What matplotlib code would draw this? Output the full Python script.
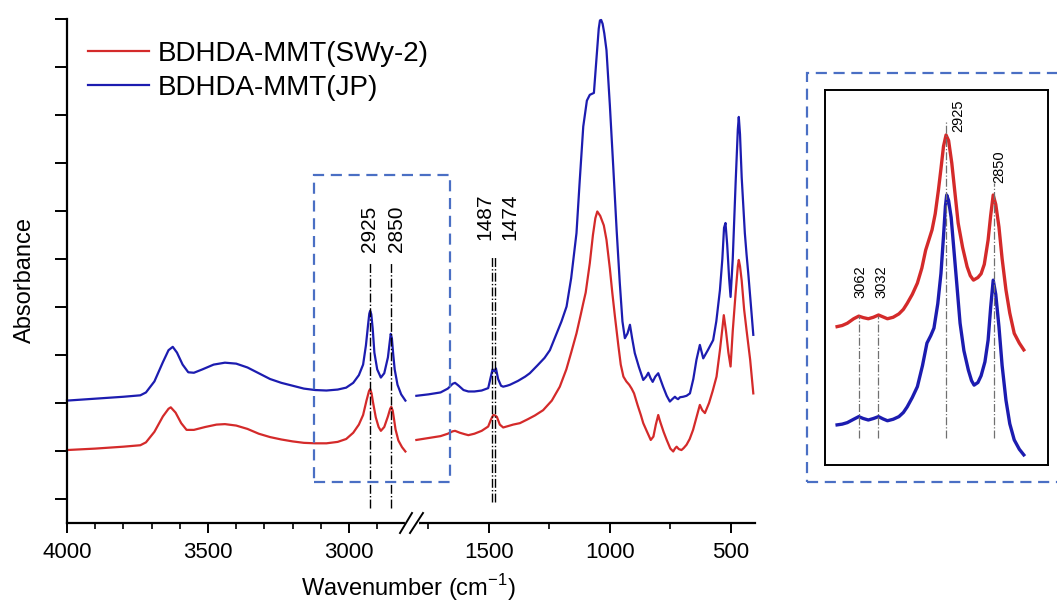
import matplotlib
matplotlib.use('Agg')
import matplotlib.pyplot as plt
from matplotlib.patches import Rectangle
from matplotlib.lines import Line2D

plt.rcParams['font.family'] = ['Liberation Sans', 'DejaVu Sans']

# --- data (wavenumber, absorbance in arbitrary units) ---
wn_left_jp = [4000, 3900, 3800, 3740, 3720, 3690, 3660, 3640, 3625, 3610, 3590, 3570, 3550, 3520,
              3480, 3440, 3400, 3360, 3320, 3280, 3240, 3200, 3160, 3120, 3080, 3040, 3010, 2985,
              2965, 2950, 2940, 2932, 2928, 2925, 2921, 2916, 2910, 2900, 2887, 2875, 2862, 2855,
              2852, 2848, 2843, 2838, 2828, 2815, 2800]
abs_left_jp = [2.05, 2.09, 2.13, 2.16, 2.22, 2.45, 2.85, 3.10, 3.17, 3.05, 2.80, 2.64, 2.63, 2.70,
               2.80, 2.84, 2.82, 2.74, 2.62, 2.50, 2.42, 2.36, 2.30, 2.27, 2.26, 2.28, 2.32, 2.42,
               2.58, 2.80, 3.20, 3.65, 3.86, 3.92, 3.85, 3.55, 3.05, 2.70, 2.53, 2.62, 2.95, 3.30,
               3.44, 3.35, 3.00, 2.70, 2.38, 2.18, 2.05]

wn_left_swy = [4000, 3900, 3800, 3740, 3720, 3690, 3660, 3640, 3632, 3615, 3595, 3576, 3550, 3510,
               3470, 3440, 3400, 3360, 3320, 3280, 3240, 3200, 3160, 3120, 3080, 3040, 3010, 2985,
               2965, 2950, 2938, 2929, 2925, 2920, 2915, 2905, 2895, 2887, 2875, 2862, 2854, 2850,
               2845, 2840, 2835, 2825, 2812, 2800]
abs_left_swy = [1.02, 1.05, 1.09, 1.12, 1.18, 1.40, 1.72, 1.88, 1.91, 1.80, 1.58, 1.44, 1.44, 1.50,
                1.55, 1.56, 1.53, 1.46, 1.36, 1.29, 1.24, 1.20, 1.17, 1.16, 1.16, 1.19, 1.25, 1.38,
                1.55, 1.75, 2.05, 2.25, 2.29, 2.20, 2.02, 1.70, 1.50, 1.42, 1.50, 1.72, 1.88, 1.92,
                1.84, 1.65, 1.45, 1.22, 1.08, 0.99]

wn_right_jp = [1800, 1750, 1700, 1670, 1650, 1640, 1625, 1605, 1585, 1560, 1530, 1503, 1492, 1485,
               1478, 1471, 1462, 1450, 1441, 1425, 1413, 1380, 1350, 1331, 1300, 1270, 1248, 1220,
               1200, 1179, 1160, 1138, 1125, 1110, 1095, 1083, 1066, 1055, 1046, 1041, 1036, 1030,
               1023, 1014, 1000, 986, 972, 959, 948, 938, 927, 917, 908, 897, 880, 862, 850, 841,
               832, 823, 812, 800, 790, 780, 765, 752, 742, 731, 725, 718, 710, 697, 683, 669, 655,
               642, 628, 614, 595, 573, 560, 545, 535, 528, 522, 515, 507, 501, 492, 480, 471, 467,
               462, 455, 442, 435, 428, 418, 407]
abs_right_jp = [2.15, 2.18, 2.22, 2.30, 2.40, 2.42, 2.36, 2.27, 2.24, 2.24, 2.26, 2.31, 2.55, 2.70,
                2.66, 2.72, 2.50, 2.36, 2.34, 2.36, 2.38, 2.46, 2.55, 2.62, 2.78, 2.94, 3.10, 3.45,
                3.70, 4.01, 4.60, 5.54, 6.60, 7.76, 8.30, 8.42, 8.46, 9.20, 9.80, 9.97, 9.98, 9.90,
                9.70, 9.35, 8.20, 6.92, 5.60, 4.50, 3.70, 3.35, 3.45, 3.63, 3.35, 3.04, 2.75, 2.48,
                2.55, 2.63, 2.52, 2.44, 2.55, 2.62, 2.48, 2.34, 2.15, 2.03, 2.08, 2.13, 2.10, 2.08,
                2.12, 2.13, 2.15, 2.20, 2.50, 2.90, 3.21, 2.93, 3.10, 3.31, 3.70, 4.35, 5.00, 5.65,
                5.75, 5.30, 4.60, 4.21, 5.00, 6.60, 7.70, 7.96, 7.60, 6.70, 5.54, 5.10, 4.71, 4.10,
                3.42]

wn_right_swy = [1800, 1750, 1700, 1670, 1650, 1640, 1620, 1600, 1585, 1560, 1530, 1503, 1492, 1482,
                1474, 1467, 1455, 1441, 1420, 1400, 1372, 1340, 1310, 1276, 1240, 1207, 1180, 1160,
                1138, 1120, 1110, 1100, 1083, 1070, 1060, 1052, 1040, 1025, 1014, 1000, 990, 979,
                965, 955, 944, 932, 920, 910, 900, 885, 872, 862, 848, 831, 820, 810, 800, 795, 790,
                778, 765, 750, 738, 731, 724, 715, 704, 695, 683, 670, 656, 642, 628, 618, 607, 590,
                575, 559, 545, 535, 529, 520, 510, 501, 492, 480, 471, 467, 462, 455, 445, 435, 420,
                407]
abs_right_swy = [1.23, 1.27, 1.31, 1.36, 1.41, 1.42, 1.38, 1.35, 1.33, 1.36, 1.42, 1.51, 1.65, 1.75,
                 1.74, 1.71, 1.55, 1.49, 1.52, 1.55, 1.58, 1.66, 1.74, 1.85, 2.05, 2.34, 2.70, 3.05,
                 3.45, 3.85, 4.08, 4.30, 4.91, 5.50, 5.85, 5.99, 5.90, 5.70, 5.40, 4.80, 4.30, 3.80,
                 3.20, 2.80, 2.55, 2.45, 2.38, 2.30, 2.20, 1.95, 1.75, 1.58, 1.42, 1.23, 1.30, 1.55,
                 1.75, 1.66, 1.58, 1.40, 1.23, 1.05, 0.99, 1.05, 1.09, 1.04, 1.02, 1.06, 1.13, 1.25,
                 1.44, 1.70, 1.96, 1.85, 1.79, 2.00, 2.25, 2.55, 3.10, 3.55, 3.83, 3.50, 3.05, 2.76,
                 3.50, 4.30, 4.85, 4.98, 4.85, 4.55, 3.95, 3.52, 2.90, 2.20]

# inset (C-H stretching region)
wn_inset_swy = [3096, 3088, 3080, 3070, 3062, 3055, 3047, 3039, 3031, 3024, 3017, 3008, 2999, 2992,
                2986, 2978, 2970, 2963, 2957, 2952, 2947, 2942, 2937, 2933, 2929, 2925, 2921, 2916,
                2911, 2906, 2899, 2892, 2887, 2882, 2875, 2870, 2865, 2859, 2855, 2851, 2847, 2842,
                2837, 2831, 2825, 2818, 2810, 2803]
abs_inset_swy = [3.69, 3.72, 3.78, 3.90, 3.97, 3.93, 3.90, 3.94, 4.00, 3.95, 3.90, 3.94, 4.03, 4.15,
                 4.31, 4.55, 4.85, 5.25, 5.73, 6.00, 6.27, 6.70, 7.33, 7.90, 8.50, 8.80, 8.65, 8.05,
                 7.25, 6.45, 5.80, 5.29, 5.05, 4.93, 5.00, 5.10, 5.35, 6.00, 6.65, 7.20, 6.95, 6.35,
                 5.50, 4.67, 4.05, 3.51, 3.25, 3.07]
wn_inset_jp = [3096, 3088, 3080, 3070, 3062, 3055, 3047, 3039, 3031, 3024, 3017, 3008, 2999, 2992,
               2986, 2978, 2970, 2962, 2955, 2949, 2944, 2938, 2933, 2929, 2926, 2924, 2921, 2917,
               2914, 2908, 2903, 2897, 2890, 2885, 2881, 2875, 2870, 2864, 2859, 2855, 2851, 2847,
               2842, 2837, 2831, 2825, 2818, 2810, 2803]
abs_inset_jp = [1.07, 1.09, 1.13, 1.22, 1.29, 1.24, 1.20, 1.24, 1.29, 1.23, 1.18, 1.22, 1.29, 1.40,
                1.55, 1.80, 2.09, 2.65, 3.25, 3.45, 3.65, 4.30, 5.11, 6.10, 6.90, 7.20, 7.05, 6.60,
                6.00, 4.80, 3.78, 3.05, 2.53, 2.25, 2.13, 2.20, 2.38, 2.75, 3.33, 4.20, 4.93, 4.55,
                3.69, 2.65, 1.73, 1.10, 0.67, 0.42, 0.27]

main_marks = [2925, 2850]
main_marks2 = [1487, 1474]
inset_marks = [3062, 3032, 2925, 2850]

RED = '#d42a2a'
BLUE = '#1c1cb0'
BOX = '#4a6fc4'

W, H = 1057, 604


def fx(px):
    return px / W


def fy(py):
    return 1 - py / H


fig = plt.figure(figsize=(W / 100, H / 100), dpi=100)

bot = fy(523)
hgt = fy(19) - bot
ax_l = fig.add_axes([fx(67), bot, fx(419.5) - fx(67), hgt])
ax_r = fig.add_axes([fx(419.5), bot, fx(755) - fx(419.5), hgt])

ax_l.plot(wn_left_swy, abs_left_swy, color=RED, lw=1.6, label='BDHDA-MMT(SWy-2)', clip_on=False)
ax_l.plot(wn_left_jp, abs_left_jp, color=BLUE, lw=1.6, label='BDHDA-MMT(JP)', clip_on=False)
ax_r.plot(wn_right_swy, abs_right_swy, color=RED, lw=1.6, clip_on=False)
ax_r.plot(wn_right_jp, abs_right_jp, color=BLUE, lw=1.6, clip_on=False)

ax_l.set_xlim(4000, 2750)
ax_r.set_xlim(1787, 400)
for ax in (ax_l, ax_r):
    ax.set_ylim(-0.5, 10)
    ax.spines['top'].set_visible(False)
    ax.spines['right'].set_visible(False)
    ax.spines['bottom'].set_linewidth(1.6)
    ax.spines['left'].set_linewidth(1.6)
    ax.patch.set_alpha(0)
    ax.tick_params(axis='x', which='major', direction='out', length=7, width=1.4,
                   labelsize=16, pad=7)
    ax.tick_params(axis='x', which='minor', direction='out', length=4, width=1.2)

ax_l.set_xticks([4000, 3500, 3000])
ax_l.set_xticks([3900, 3800, 3700, 3600, 3400, 3300, 3200, 3100, 2900], minor=True)
ax_l.set_yticks(range(0, 11))
ax_l.set_yticklabels([])
ax_l.tick_params(axis='y', direction='out', length=9, width=1.4)

ax_r.set_xticks([1500, 1000, 500])
ax_r.set_xticks([1750, 1250, 750], minor=True)
ax_r.spines['left'].set_visible(False)
ax_r.set_yticks([])

# annotation lines in the main plot
for m in main_marks:
    ax_l.plot([m, m], [-0.19, 4.94], color='k', lw=1, ls='-.')
ax_l.text(2929, 5.15, '2925', rotation=90, ha='center', va='bottom', fontsize=15)
ax_l.text(2833, 5.15, '2850', rotation=90, ha='center', va='bottom', fontsize=15)
for m in main_marks2:
    ax_r.plot([m, m], [-0.06, 5.06], color='k', lw=1, ls='-.')
ax_r.text(1516, 5.4, '1487', rotation=90, ha='center', va='bottom', fontsize=15)
ax_r.text(1413, 5.4, '1474', rotation=90, ha='center', va='bottom', fontsize=15)

ax_l.legend(loc='upper left', bbox_to_anchor=(fx(88), fy(41)), bbox_transform=fig.transFigure,
            frameon=False, fontsize=20, handlelength=2.2, handletextpad=0.3,
            labelspacing=0.28, borderpad=0, borderaxespad=0)

fig.text(fx(408), fy(588), 'Wavenumber (cm$^{\\mathregular{-1}}$)', ha='center', va='center',
         fontsize=17)
fig.text(fx(25), fy(280), 'Absorbance', ha='center', va='center', rotation=90, fontsize=17)

# axis break mark
fig.add_artist(Line2D([fx(406.5), fx(416.5)], [fy(523), fy(523)], color='white', lw=3, zorder=5))
fig.add_artist(Line2D([fx(400), fx(412)], [fy(533), fy(513)], color='k', lw=1.4, zorder=6))
fig.add_artist(Line2D([fx(410), fx(423)], [fy(533), fy(513)], color='k', lw=1.4, zorder=6))

# dashed highlight boxes
fig.add_artist(Rectangle((fx(314), fy(482)), fx(450) - fx(314), fy(175) - fy(482),
                         transform=fig.transFigure, fill=False, ec=BOX, lw=1.6,
                         ls=(0, (5, 3)), zorder=4))
fig.add_artist(Rectangle((fx(807), fy(482)), fx(1065) - fx(807), fy(73) - fy(482),
                         transform=fig.transFigure, fill=False, ec=BOX, lw=1.6,
                         ls=(0, (5, 3)), zorder=4))

# inset
ax_in = fig.add_axes([fx(825), fy(465), fx(1048) - fx(825), fy(90) - fy(465)])
ax_in.plot(wn_inset_swy, abs_inset_swy, color=RED, lw=2.4)
ax_in.plot(wn_inset_jp, abs_inset_jp, color=BLUE, lw=2.4)
ax_in.set_xlim(3115, 2765)
ax_in.set_ylim(0, 10)
ax_in.set_xticks([])
ax_in.set_yticks([])
for s in ax_in.spines.values():
    s.set_linewidth(1.4)

inset_tops = [3.97, 3.97, 9.2, 7.52]
for m, t in zip(inset_marks, inset_tops):
    ax_in.plot([m, m], [0.72, t], color='#707070', lw=0.9, ls='-.')
ax_in.text(3060, 4.45, '3062', rotation=90, ha='center', va='bottom', fontsize=10.5)
ax_in.text(3027, 4.45, '3032', rotation=90, ha='center', va='bottom', fontsize=10.5)
ax_in.text(2906, 8.88, '2925', rotation=90, ha='center', va='bottom', fontsize=10.5)
ax_in.text(2842, 7.52, '2850', rotation=90, ha='center', va='bottom', fontsize=10.5)

fig.savefig('out.png', dpi=100)
